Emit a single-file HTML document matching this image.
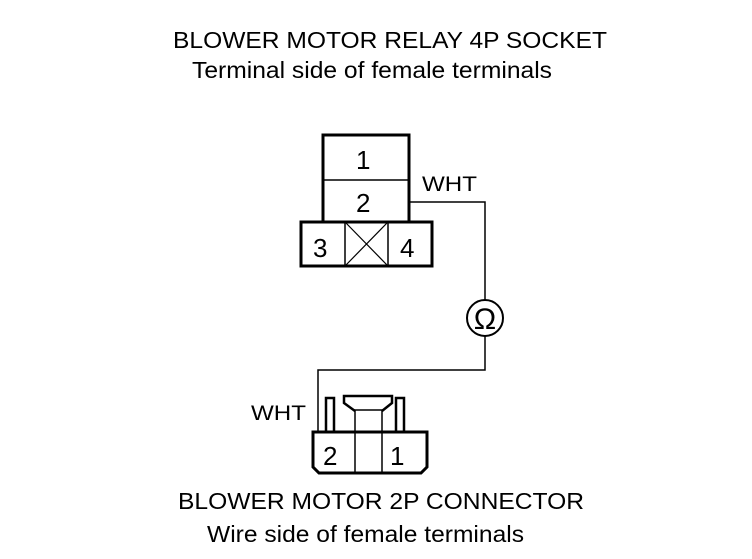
<!DOCTYPE html>
<html><head><style>
body{margin:0;background:#fff;}
svg text{font-family:"Liberation Sans",Arial,sans-serif;fill:#000;}
</style></head><body>
<svg width="752" height="554" viewBox="0 0 752 554" xmlns="http://www.w3.org/2000/svg">
<text x="173" y="48" font-size="23" textLength="434" lengthAdjust="spacingAndGlyphs">BLOWER MOTOR RELAY 4P SOCKET</text>
<text x="192" y="78" font-size="23" textLength="360" lengthAdjust="spacingAndGlyphs">Terminal side of female terminals</text>
<text x="178" y="509" font-size="23" textLength="406" lengthAdjust="spacingAndGlyphs">BLOWER MOTOR 2P CONNECTOR</text>
<text x="207" y="542" font-size="23" textLength="317" lengthAdjust="spacingAndGlyphs">Wire side of female terminals</text>
<g fill="none" stroke="#000">
<rect x="323" y="135" width="86" height="87" stroke-width="3"/>
<line x1="323" y1="180" x2="409" y2="180" stroke-width="1.5"/>
<rect x="301" y="222" width="131" height="44" stroke-width="3"/>
<line x1="345" y1="222" x2="345" y2="266" stroke-width="1.5"/>
<line x1="388" y1="222" x2="388" y2="266" stroke-width="1.5"/>
<line x1="345" y1="222" x2="388" y2="266" stroke-width="1.2"/>
<line x1="388" y1="222" x2="345" y2="266" stroke-width="1.2"/>
<polyline points="409,202 485,202 485,300" stroke-width="1.5"/>
<circle cx="485" cy="318" r="18" stroke-width="2"/>
<polyline points="485,336 485,370 318,370 318,432" stroke-width="1.5"/>
<path d="M313,432 H427 V467 L421,473 H319 L313,467 Z" stroke-width="3"/>
<line x1="355" y1="432" x2="355" y2="473" stroke-width="1.5"/>
<line x1="382" y1="432" x2="382" y2="473" stroke-width="1.5"/>
<path d="M326,432 V398 H334 V432" stroke-width="2.5"/>
<path d="M396,432 V398 H404 V432" stroke-width="2.5"/>
<path d="M355,411 L344,403 V396 H392 V403 L382,411" stroke-width="2.5"/>
<rect x="355" y="410" width="27" height="22" stroke-width="1.5"/>
</g>
<text x="356" y="169" font-size="26">1</text>
<text x="356" y="212" font-size="26">2</text>
<text x="313" y="257" font-size="26">3</text>
<text x="400" y="257" font-size="26">4</text>
<text x="422" y="191" font-size="21" textLength="55" lengthAdjust="spacingAndGlyphs">WHT</text>
<text x="251" y="420" font-size="21" textLength="55" lengthAdjust="spacingAndGlyphs">WHT</text>
<text x="323" y="465" font-size="26">2</text>
<text x="390" y="465" font-size="26">1</text>
<text x="485" y="329" font-size="30" text-anchor="middle">Ω</text>
</svg>
</body></html>
